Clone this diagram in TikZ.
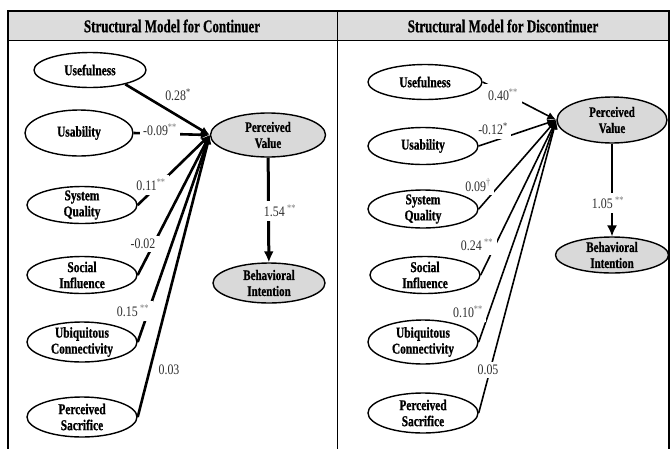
\documentclass[tikz,border=0pt]{standalone}
\usepackage{fontspec}
\setmainfont{Liberation Serif}[FakeStretch=0.8]
\newfontfamily\hdrfont{Liberation Serif}[FakeStretch=0.72,FakeBold=0.8]
\newfontfamily\ovalfont{Liberation Serif}[FakeStretch=0.76,FakeBold=0.8]
\newfontfamily\coeffont{Liberation Serif}[FakeStretch=0.82]
\usetikzlibrary{arrows.meta,shapes.geometric}
\definecolor{hdrgray}{HTML}{DCDCDC}
\definecolor{ovalgray}{HTML}{D9D9D9}
\definecolor{coefgray}{HTML}{303030}
\definecolor{stargray}{HTML}{7A7A7A}
\newcommand{\sig}[1]{\textsuperscript{\color{stargray}#1}}
\newcommand{\sigd}[1]{\textsuperscript{#1}}

\begin{document}
\begin{tikzpicture}[x=1pt,y=-1pt,
  oval/.style={ellipse, draw, line width=1.4pt, fill=white,
    minimum width=110pt, minimum height=37pt, inner xsep=0pt, inner ysep=-4pt,
    align=center, font=\ovalfont\fontsize{15}{16}\selectfont\bfseries},
  dv/.style={oval, fill=ovalgray, font=\ovalfont\fontsize{14.5}{16}\selectfont\bfseries},
  coef/.style={fill=white, inner sep=3.5pt, text=coefgray,
    font=\coeffont\fontsize{14.5}{14.5}\selectfont},
  pathL/.style={line width=2.6pt, -{Latex[length=9pt,width=8pt]}},
  pathR/.style={line width=1.6pt, -{Latex[length=9pt,width=8pt]}},
  hdr/.style={font=\hdrfont\fontsize{18}{18}\selectfont\bfseries}
]
\useasboundingbox (0,0) rectangle (670,448);

% table frame with shaded header row
\fill[hdrgray] (8,11) rectangle (669,40);
\draw[line width=1.3pt] (8,455) -- (8,11) -- (669,11) -- (669,455);
\draw[line width=1pt] (8,40) -- (669,40);
\draw[line width=1pt] (337,11) -- (337,455);
\node[hdr] (hL) at (172,26) {Structural Model for Continuer};
\node[hdr] (hR) at (503,26) {Structural Model for Discontinuer};

% ---- continuer model ----
\node[oval, minimum width=112pt, minimum height=35pt] (uL) at (90,70) {Usefulness};
\node[oval, minimum width=108pt, minimum height=46pt] (ubL) at (79,133) {Usability};
\node[oval] (sqL) at (82,205) {System\\Quality};
\node[oval] (siL) at (82,275) {Social\\Influence};
\node[oval, minimum height=40pt] (ucL) at (82,342) {Ubiquitous\\Connectivity};
\node[oval, minimum height=40pt] (psL) at (82,417) {Perceived\\Sacrifice};
\node[dv, minimum width=115pt, minimum height=44pt] (pvL) at (268,135) {Perceived\\Value};
\node[dv, minimum width=112pt, minimum height=40pt] (biL) at (269,283) {Behavioral\\Intention};

\draw[pathL] (uL.-22) -- (pvL.west);
\foreach \s in {ubL,sqL,siL,ucL,psL}
  \draw[pathL] (\s.east) -- (pvL.west);
\draw[line width=3pt, -{Latex[length=11pt,width=10pt]}] (pvL) -- (biL);

\node[coef] (cL1) at (178,95) {0.28\sigd{*}};
\node[coef] (cL2) at (160,130) {-0.09\sig{**}};
\node[coef] (cL3) at (151,185) {0.11\sig{**}};
\node[coef] (cL4) at (143,244) {-0.02};
\node[coef] (cL5) at (133,311) {0.15\,\sig{**}};
\node[coef, fill=none] (cL6) at (169,370) {0.03};
\node[coef] (cL7) at (280,211) {1.54\,\sig{**}};

% ---- discontinuer model ----
\node[oval, minimum width=114pt, minimum height=35pt] (uR) at (425,82) {Usefulness};
\node[oval] (ubR) at (423,146) {Usability};
\node[oval, minimum height=38pt] (sqR) at (423,209) {System\\Quality};
\node[oval] (siR) at (425,275) {Social\\Influence};
\node[oval, minimum height=44pt] (ucR) at (423,342) {Ubiquitous\\Connectivity};
\node[oval, minimum height=40pt] (psR) at (423,413) {Perceived\\Sacrifice};
\node[dv, minimum width=110pt, minimum height=46pt] (pvR) at (612,120) {Perceived\\Value};
\node[dv, minimum width=113pt, minimum height=36pt] (biR) at (612,255) {Behavioral\\Intention};

\foreach \s in {uR,ubR,sqR,siR,ucR,psR}
  \draw[pathR] (\s.east) -- (pvR.west);
\draw[line width=1.6pt, -{Latex[length=11pt,width=10pt]}] (pvR) -- (biR);

\node[coef, inner sep=4.5pt] (cR1) at (503,95) {0.40\sig{**}};
\node[coef] (cR2) at (493,129) {-0.12\sigd{*}};
\node[coef] (cR3) at (478,185) {0.09\sig{\textdagger}};
\node[coef] (cR4) at (477,245) {0.24\,\sig{**}};
\node[coef] (cR5) at (468,312) {0.10\sig{**}};
\node[coef] (cR6) at (488,370) {0.05};
\node[coef] (cR7) at (608,203) {1.05\,\sig{**}};
\end{tikzpicture}
\end{document}
